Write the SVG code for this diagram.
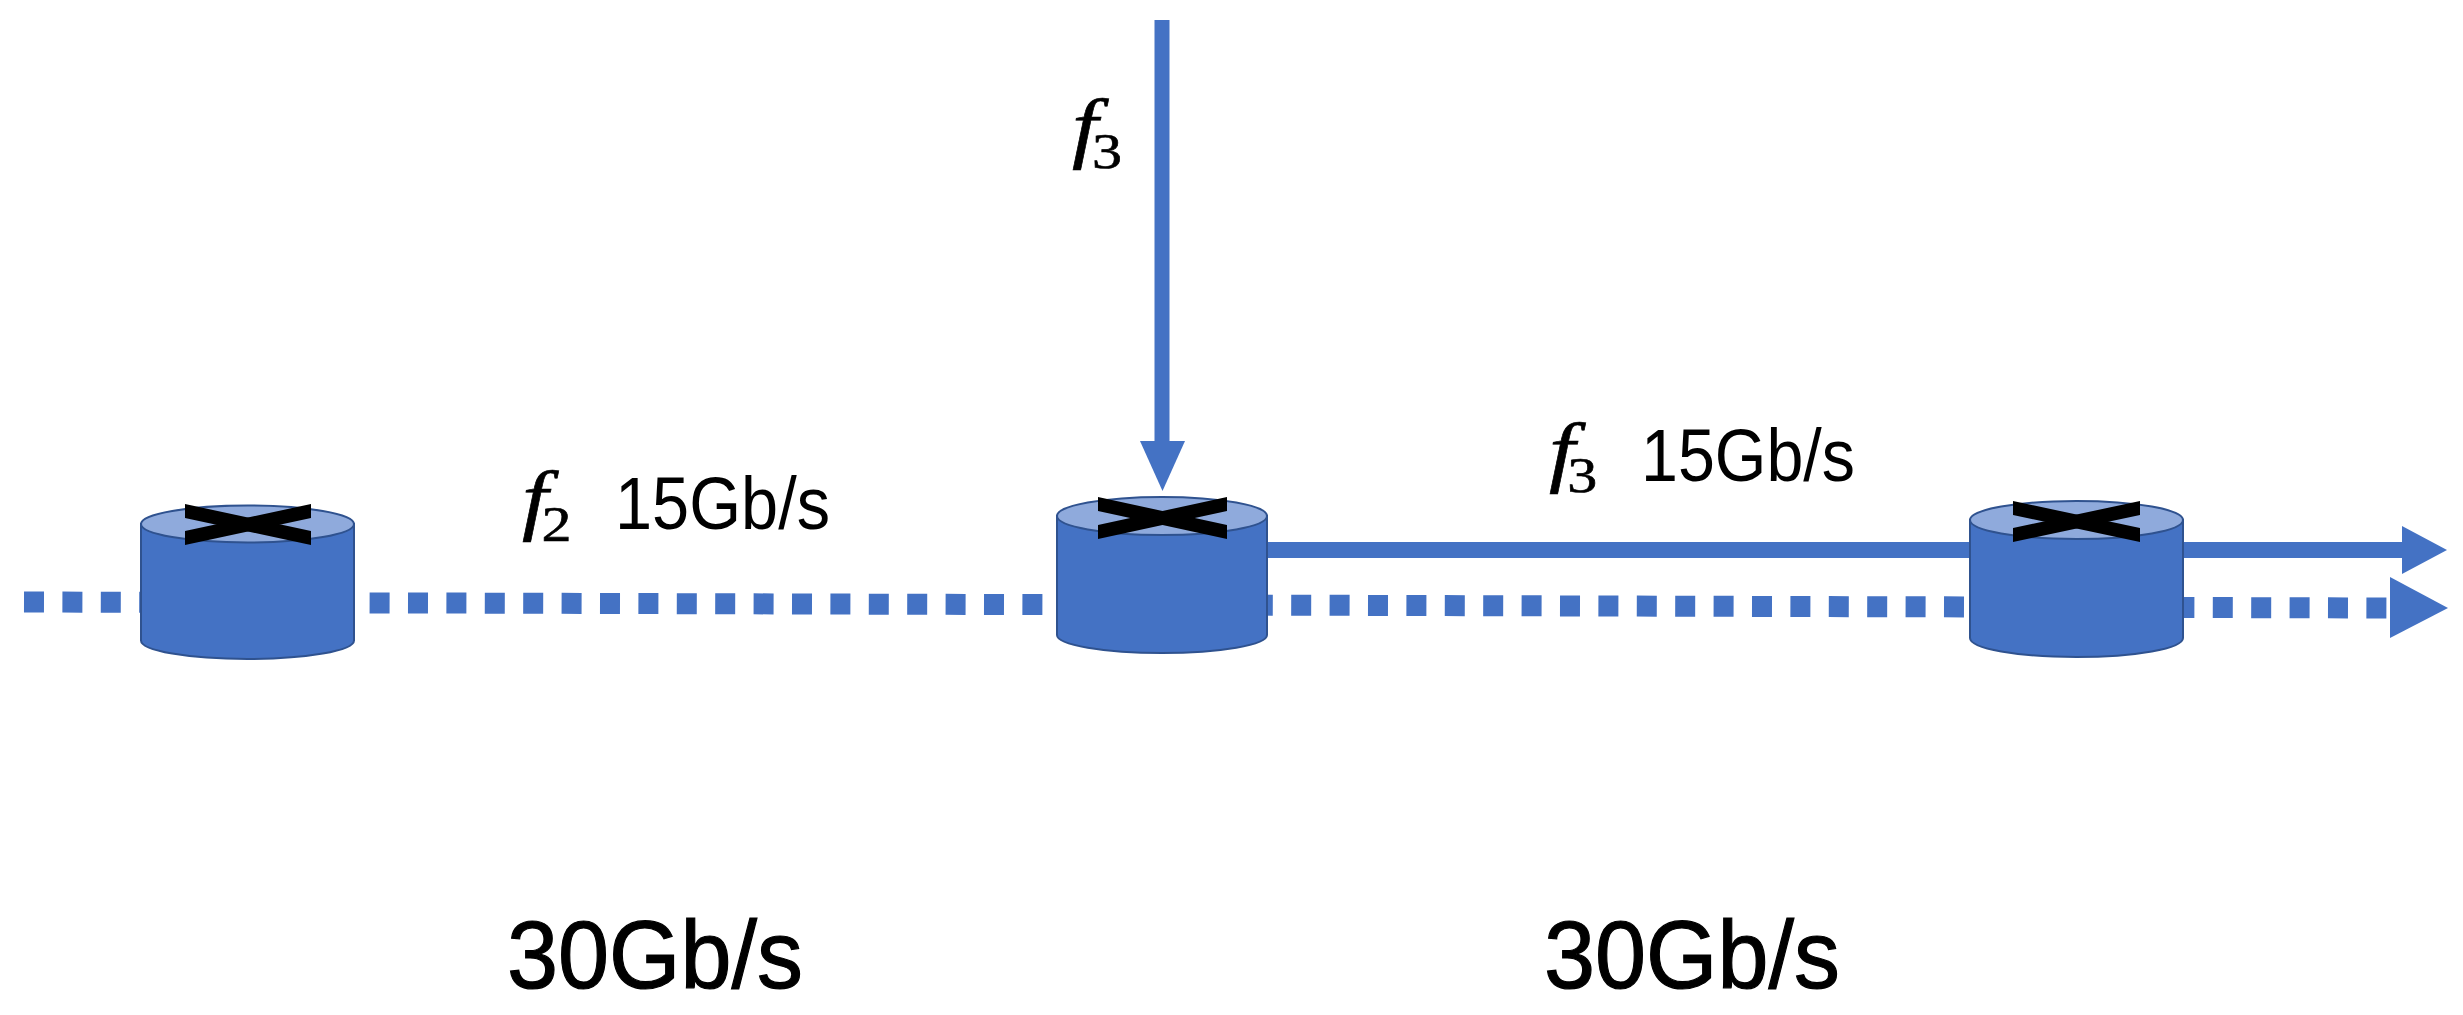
<svg xmlns="http://www.w3.org/2000/svg" width="2463" height="1015" viewBox="0 0 2463 1015">
<style>
.body{fill:#4472C4;stroke:#2F528F;stroke-width:2}
.top{fill:#8FAADC;stroke:#2F528F;stroke-width:2}
.x{fill:#000}
.solid{fill:none;stroke:#4472C4}
.dots{fill:none;stroke:#4472C4;stroke-width:21;stroke-dasharray:20 18.4}
.head{fill:#4472C4}
.f{font-family:"Liberation Serif",serif;font-style:italic;font-size:78px;fill:#000;stroke:#000;stroke-width:.6}
.sub{font-style:normal;font-size:50px}
.rate{font-family:"Liberation Sans",Arial,sans-serif;font-size:75px;fill:#000}
.cap{font-family:"Liberation Sans",Arial,sans-serif;font-size:97px;fill:#000;stroke:#000;stroke-width:1.2}
</style>
<rect width="2463" height="1015" fill="#fff"/>
<g id="connectors">
<line class="dots" x1="24" y1="602" x2="2390" y2="608"/>
<polygon class="head" points="2390,577 2448,608 2390,638"/>
<line class="solid" stroke-width="15" x1="1162" y1="20" x2="1162" y2="445"/>
<polygon class="head" points="1140,441 1185,441 1162.500,491"/>
<line class="solid" stroke-width="16" x1="1267" y1="550" x2="2405" y2="550"/>
<polygon class="head" points="2402,526 2447,550 2402,574"/>
</g>
<g id="node-1">
<path class="body" d="M141 524V640.500A106.500 18.500 0 0 0 354 640.500V524Z"/>
<ellipse class="top" cx="247.500" cy="524" rx="106.500" ry="18.500"/>
<polygon class="x" points="185,504 311,531 311,545 185,518"/>
<polygon class="x" points="185,531 311,504 311,518 185,545"/>
</g>
<g id="node-2">
<path class="body" d="M1057 516V635A105 18 0 0 0 1267 635V516Z"/>
<ellipse class="top" cx="1162" cy="516" rx="105" ry="19"/>
<polygon class="x" points="1098,497 1227,525 1227,539 1098,511"/>
<polygon class="x" points="1098,525 1227,497 1227,511 1098,539"/>
</g>
<g id="node-3">
<path class="body" d="M1970 520V638A106.500 19 0 0 0 2183 638V520Z"/>
<ellipse class="top" cx="2076.500" cy="520" rx="106.500" ry="19"/>
<polygon class="x" points="2013,501 2140,528 2140,542 2013,515"/>
<polygon class="x" points="2013,528 2140,501 2140,515 2013,542"/>
</g>
<g id="label-f3-top">
<text class="f" transform="translate(1072,153) scale(1.2,1)">f<tspan class="sub" dx="-5" dy="15">3</tspan></text>
</g>
<g id="label-f2">
<text class="f" transform="translate(522,525) scale(1.2,1)">f<tspan class="sub" dx="-5.500" dy="16">2</tspan></text>
<text class="rate" x="615" y="529" textLength="215" lengthAdjust="spacingAndGlyphs">15Gb/s</text>
</g>
<g id="label-f3">
<text class="f" transform="translate(1549,477) scale(1.2,1)">f<tspan class="sub" dx="-6.500" dy="15">3</tspan></text>
<text class="rate" x="1641" y="481" textLength="214" lengthAdjust="spacingAndGlyphs">15Gb/s</text>
</g>
<text class="cap" x="507" y="988" textLength="296" lengthAdjust="spacingAndGlyphs">30Gb/s</text>
<text class="cap" x="1544" y="988" textLength="296" lengthAdjust="spacingAndGlyphs">30Gb/s</text>
</svg>
